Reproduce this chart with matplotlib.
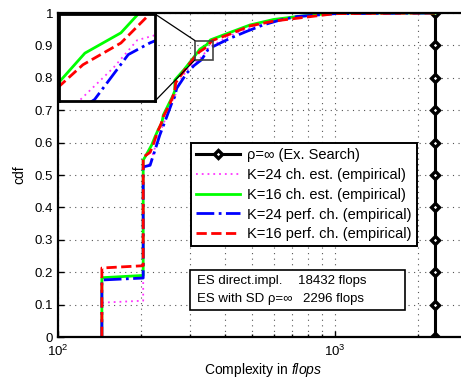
import matplotlib
matplotlib.use("Agg")
import matplotlib.pyplot as plt
from matplotlib.patches import Rectangle, ConnectionPatch

plt.rcParams['font.family'] = ['Liberation Sans', 'DejaVu Sans']
plt.rcParams['mathtext.fontset'] = 'custom'
plt.rcParams['mathtext.rm'] = 'Liberation Sans'
plt.rcParams['mathtext.it'] = 'Liberation Sans:italic'

# ---------------- data ----------------
es_x = [2296] * 11
es_y = [0.0, 0.1, 0.2, 0.3, 0.4, 0.5, 0.6, 0.7, 0.8, 0.9, 1.0]

k24_est_x = [144, 144, 203, 203, 215, 224, 233, 246, 257, 266, 270, 292, 310, 322, 340, 353, 362, 418, 479, 550, 632, 728, 1000, 2296]
k24_est_y = [0.0, 0.106, 0.112, 0.52, 0.535, 0.585, 0.63, 0.68, 0.725, 0.75, 0.775, 0.825, 0.845, 0.855, 0.878, 0.897, 0.9, 0.93, 0.95, 0.967, 0.98, 0.99, 0.998, 1.0]

k16_est_x = [144, 144, 203, 203, 206, 218, 224, 230, 237, 240, 250, 260, 264, 264, 285, 307, 325, 344, 355, 418, 493, 600, 748, 1000, 2296]
k16_est_y = [0.0, 0.183, 0.19, 0.546, 0.555, 0.593, 0.618, 0.64, 0.66, 0.685, 0.716, 0.745, 0.76, 0.793, 0.825, 0.86, 0.888, 0.902, 0.917, 0.94, 0.963, 0.98, 0.99, 1.0, 1.0]

k24_perf_x = [144, 144, 203, 203, 215, 224, 233, 246, 257, 264, 268, 292, 310, 330, 348, 360, 418, 479, 550, 632, 728, 1000, 2296]
k24_perf_y = [0.0, 0.176, 0.182, 0.525, 0.53, 0.577, 0.623, 0.676, 0.72, 0.742, 0.767, 0.815, 0.838, 0.856, 0.887, 0.895, 0.922, 0.943, 0.963, 0.978, 0.989, 0.998, 1.0]

k16_perf_x = [144, 144, 203, 203, 215, 222, 228, 236, 240, 250, 258, 264, 266, 290, 312, 324, 344, 360, 418, 493, 600, 748, 1000, 2296]
k16_perf_y = [0.0, 0.213, 0.22, 0.555, 0.57, 0.6, 0.63, 0.66, 0.68, 0.71, 0.735, 0.76, 0.785, 0.83, 0.865, 0.88, 0.895, 0.915, 0.935, 0.96, 0.975, 0.985, 0.998, 1.0]

labels = ['ρ=∞ (Ex. Search)',
          'K=24 ch. est. (empirical)',
          'K=16 ch. est. (empirical)',
          'K=24 perf. ch. (empirical)',
          'K=16 perf. ch. (empirical)']

yticks = [0, 0.1, 0.2, 0.3, 0.4, 0.5, 0.6, 0.7, 0.8, 0.9, 1]
ytick_labels = ['0', '0.1', '0.2', '0.3', '0.4', '0.5', '0.6', '0.7', '0.8', '0.9', '1']

# ---------------- figure ----------------
W, H = 461, 380
fig = plt.figure(figsize=(W / 100, H / 100), dpi=100)
ax = fig.add_axes([58 / W, (H - 337) / H, 409.2 / W, 324 / H])

series = [
    (k24_est_x, k24_est_y, dict(color='#ff33ff', ls=(0, (1, 2.2)), lw=1.3)),
    (k16_est_x, k16_est_y, dict(color='#00ff00', ls='-', lw=2.0)),
    (k24_perf_x, k24_perf_y, dict(color='#0000ff', ls='-.', lw=2.0)),
    (k16_perf_x, k16_perf_y, dict(color='#ff0000', ls='--', lw=2.0)),
]

def draw(a, msize=4.5):
    hs = []
    h, = a.plot(es_x, es_y, color='black', lw=2.2, marker='D', markersize=msize,
                markerfacecolor='white', markeredgecolor='black', markeredgewidth=2.4)
    hs.append(h)
    for x, y, kw in series:
        h, = a.plot(x, y, **kw)
        hs.append(h)
    return hs

handles = draw(ax)

ax.set_xscale('log')
ax.set_xlim(100, 3000)
ax.set_ylim(0, 1)
ax.set_yticks(yticks)
ax.set_yticklabels(ytick_labels)
ax.set_xticks([100, 1000])
ax.set_xticklabels([r'$10^{2}$', r'$10^{3}$'])
ax.tick_params(which='both', direction='in', labelsize=9.5, length=4, width=1)
ax.tick_params(which='minor', length=2)
ax.tick_params(axis='x', pad=5)
ax.grid(True, which='both', axis='x', color='#555555', ls=(0, (1, 4)), lw=0.8)
ax.grid(True, which='major', axis='y', color='#555555', ls=(0, (1, 4)), lw=0.8)
for s in ax.spines.values():
    s.set_linewidth(1.6)

ax.set_xlabel(r'Complexity in $\it{flops}$', fontsize=10, labelpad=1)
ax.set_ylabel('cdf', fontsize=10, labelpad=6)

leg = ax.legend(handles, labels, loc='upper left', bbox_to_anchor=(0.325, 0.599),
                borderaxespad=0, fontsize=10.5, fancybox=False, framealpha=1,
                edgecolor='black', handlelength=3.0, handletextpad=0.5,
                labelspacing=0.4, borderpad=0.35)
leg.get_frame().set_linewidth(1.4)

# text box
bx0, bx1 = (190 - 58) / 409.2, (405 - 58) / 409.2
by0, by1 = (337 - 310) / 324, (337 - 270) / 324
ax.add_patch(Rectangle((bx0, by0), bx1 - bx0, by1 - by0, transform=ax.transAxes,
                       facecolor='white', edgecolor='black', lw=1.2, zorder=5))
t1y = (337 - 281) / 324
t2y = (337 - 299) / 324
tx = (197 - 58) / 409.2
fs = 9.5
ax.text(tx, t1y, 'ES direct.impl.', transform=ax.transAxes, fontsize=fs, va='center', zorder=6)
ax.text((298 - 58) / 409.2, t1y, '18432 flops', transform=ax.transAxes, fontsize=fs, va='center', zorder=6)
ax.text(tx, t2y, 'ES with SD ρ=∞', transform=ax.transAxes, fontsize=fs, va='center', zorder=6)
ax.text((303 - 58) / 409.2, t2y, '2296 flops', transform=ax.transAxes, fontsize=fs, va='center', zorder=6)

# zoom rectangle in main axes
zx0, zx1, zy0, zy1 = 312, 363, 0.855, 0.915
ax.add_patch(Rectangle((zx0, zy0), zx1 - zx0, zy1 - zy0, facecolor='none',
                       edgecolor='#444444', lw=1.2, zorder=4))

# inset
ins = fig.add_axes([59 / W, (H - 101) / H, 96 / W, 87 / H])
draw(ins)
ins.set_xscale('log')
ins.set_xlim(zx0, zx1)
ins.set_ylim(zy0, zy1)
ins.set_xticks([]); ins.set_yticks([])
ins.minorticks_off()
for s in ins.spines.values():
    s.set_linewidth(2)

for (xa, ya), (xb, yb) in [((1, 1), (zx0, zy1)), ((1, 0), (zx0, zy0))]:
    cp = ConnectionPatch(xyA=(xa, ya), coordsA=ins.transAxes, xyB=(xb, yb), coordsB=ax.transData,
                         color='black', lw=0.9)
    fig.add_artist(cp)

fig.savefig('out.png', dpi=100)
